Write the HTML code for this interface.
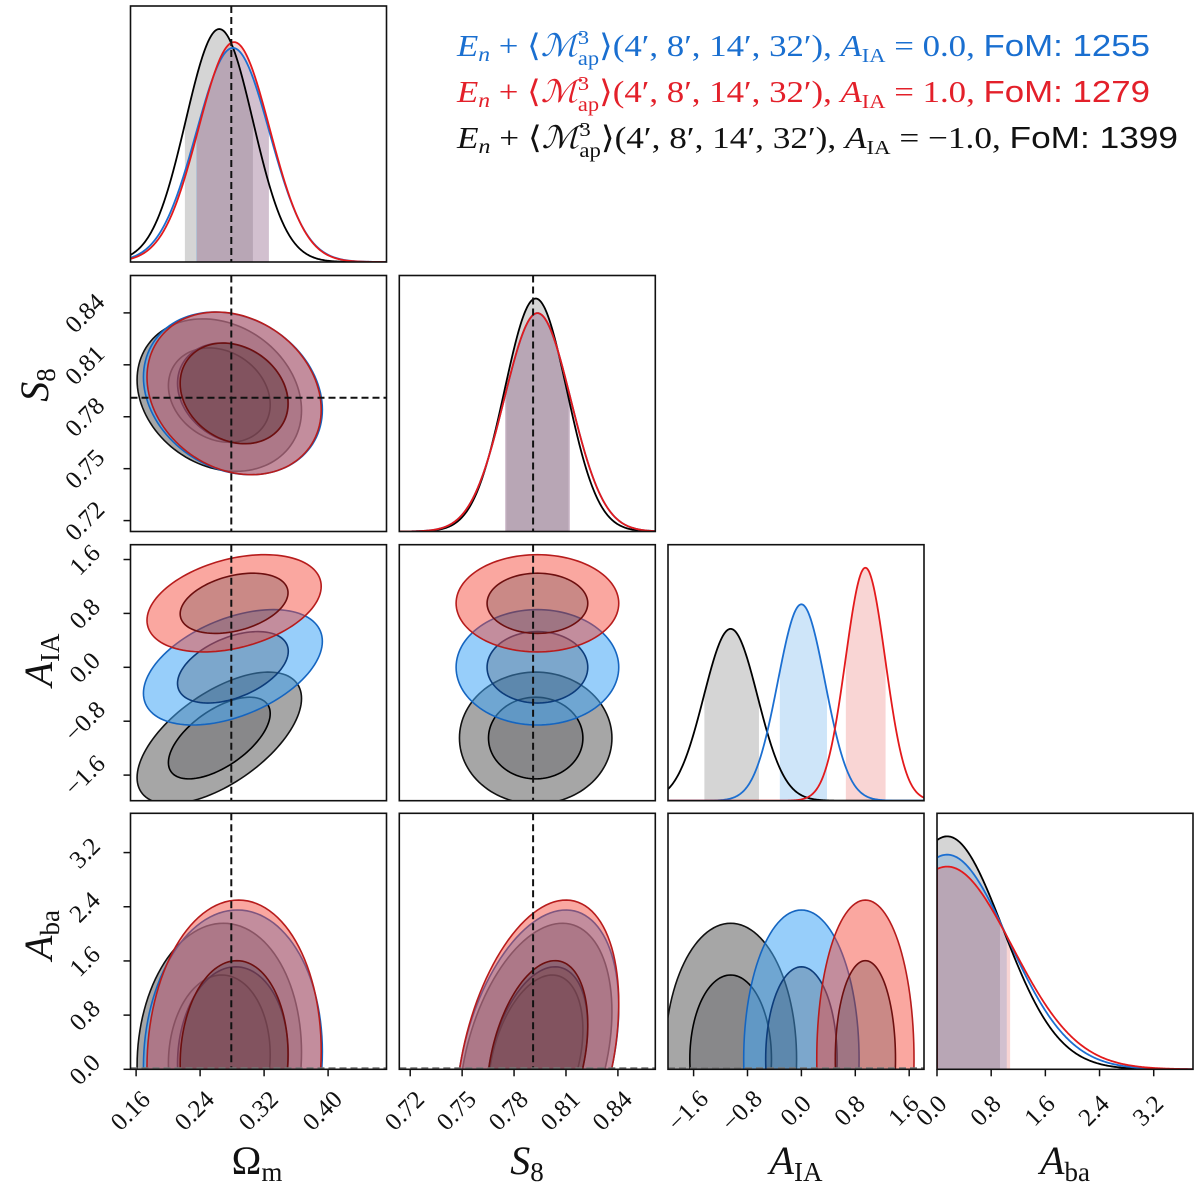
<!DOCTYPE html>
<html><head><meta charset="utf-8"><title>Corner plot</title>
<style>
html,body{margin:0;padding:0;background:#fff;}
svg{display:block;font-family:"Liberation Serif","DejaVu Serif",serif;}
</style></head>
<body>
<svg id="chart" width="1200" height="1200" viewBox="0 0 1200 1200" xmlns="http://www.w3.org/2000/svg">
<rect x="0" y="0" width="1200" height="1200" fill="#fff"/>
<g id="panels"></g>
<g id="legend">
<text x="457" y="56" font-size="31" fill="#1a6fd0" textLength="693" lengthAdjust="spacingAndGlyphs"><tspan font-style="italic">E</tspan><tspan font-style="italic" font-size="21" dy="5">n</tspan><tspan dy="-5"> + ⟨</tspan><tspan font-style="italic">ℳ</tspan><tspan font-size="20" dy="-12">3</tspan><tspan font-size="20" dx="-10" dy="21">ap</tspan><tspan dy="-9">⟩(4′, 8′, 14′, 32′), </tspan><tspan font-style="italic">A</tspan><tspan font-size="20" dy="6">IA</tspan><tspan dy="-6"> = 0.0, </tspan><tspan font-family="Liberation Sans, sans-serif">FoM: 1255</tspan></text>
<text x="457" y="102" font-size="31" fill="#e3202a" textLength="693" lengthAdjust="spacingAndGlyphs"><tspan font-style="italic">E</tspan><tspan font-style="italic" font-size="21" dy="5">n</tspan><tspan dy="-5"> + ⟨</tspan><tspan font-style="italic">ℳ</tspan><tspan font-size="20" dy="-12">3</tspan><tspan font-size="20" dx="-10" dy="21">ap</tspan><tspan dy="-9">⟩(4′, 8′, 14′, 32′), </tspan><tspan font-style="italic">A</tspan><tspan font-size="20" dy="6">IA</tspan><tspan dy="-6"> = 1.0, </tspan><tspan font-family="Liberation Sans, sans-serif">FoM: 1279</tspan></text>
<text x="457" y="148" font-size="31" fill="#111" textLength="721" lengthAdjust="spacingAndGlyphs"><tspan font-style="italic">E</tspan><tspan font-style="italic" font-size="21" dy="5">n</tspan><tspan dy="-5"> + ⟨</tspan><tspan font-style="italic">ℳ</tspan><tspan font-size="20" dy="-12">3</tspan><tspan font-size="20" dx="-10" dy="21">ap</tspan><tspan dy="-9">⟩(4′, 8′, 14′, 32′), </tspan><tspan font-style="italic">A</tspan><tspan font-size="20" dy="6">IA</tspan><tspan dy="-6"> = −1.0, </tspan><tspan font-family="Liberation Sans, sans-serif">FoM: 1399</tspan></text>
</g>
<g id="titles" font-size="40" fill="#111">
<text x="257" y="1174" text-anchor="middle">Ω<tspan font-size="27" dy="7">m</tspan></text>
<text x="527" y="1174" text-anchor="middle"><tspan font-style="italic">S</tspan><tspan font-size="27" dy="7">8</tspan></text>
<text x="796" y="1174" text-anchor="middle"><tspan font-style="italic">A</tspan><tspan font-size="27" dy="7">IA</tspan></text>
<text x="1065" y="1174" text-anchor="middle"><tspan font-style="italic">A</tspan><tspan font-size="27" dy="7">ba</tspan></text>
<text transform="translate(48,385) rotate(-90)" text-anchor="middle"><tspan font-style="italic">S</tspan><tspan font-size="27" dy="7">8</tspan></text>
<text transform="translate(52,660) rotate(-90)" text-anchor="middle"><tspan font-style="italic">A</tspan><tspan font-size="27" dy="7">IA</tspan></text>
<text transform="translate(52,935) rotate(-90)" text-anchor="middle"><tspan font-style="italic">A</tspan><tspan font-size="27" dy="7">ba</tspan></text>
</g>
</svg>
<script>
// ---- data (series order: A_IA=-1.0 (black), A_IA=0.0 (blue), A_IA=1.0 (red)) ----
const seriesNames = ["aia-minus-1", "aia-0", "aia-1"];
const meanOm = [0.264, 0.281, 0.2825];
const sigOm = [0.042, 0.0457, 0.0445];
const meanS8 = [0.7925, 0.7935, 0.7935];
const sigS8 = [0.018, 0.0192, 0.0192];
const meanAIA = [-1.05, 0.0, 0.95];
const sigAIA = [0.40, 0.35, 0.295];
const meanAba = [0.15, 0.15, 0.15];
const sigAba = [0.82, 0.90, 0.96];
const corrOmS8 = [-0.2, -0.2, -0.2];
const corrOmAIA = [0.6, 0.45, 0.35];
const corrOmAba = [0.05, 0.05, 0.05];
const corrS8AIA = [0.0, 0.0, 0.0];
const corrS8Aba = [0.35, 0.35, 0.35];
const corrAIAAba = [0.0, 0.0, 0.0];
const bandOm = [[0.221, 0.306], [0.235, 0.326], [0.236, 0.326]];
const bandS8 = [[0.7755, 0.8115], [0.7748, 0.8123], [0.7748, 0.8123]];
const bandAIA = [[-1.44, -0.63], [-0.32, 0.38], [0.66, 1.25]];
const bandAba = [[0.0, 0.93], [0.0, 1.03], [0.0, 1.08]];
const ticksOm = [0.16, 0.24, 0.32, 0.40];
const tickLabelsOm = ["0.16", "0.24", "0.32", "0.40"];
const ticksS8 = [0.72, 0.75, 0.78, 0.81, 0.84];
const tickLabelsS8 = ["0.72", "0.75", "0.78", "0.81", "0.84"];
const ticksAIA = [-1.6, -0.8, 0.0, 0.8, 1.6];
const tickLabelsAIA = ["−1.6", "−0.8", "0.0", "0.8", "1.6"];
const ticksAba = [0.0, 0.8, 1.6, 2.4, 3.2];
const tickLabelsAba = ["0.0", "0.8", "1.6", "2.4", "3.2"];
const fidOm = 0.279;
const fidS8 = 0.791;
const fidAba = 0.0;

// ---- layout / style ----
const NS = "http://www.w3.org/2000/svg";
const colLeft = [130.5, 399.3, 668, 937];
const rowTop = [6, 275.5, 544.7, 813.3];
const PS = 256;
const ranges = [[0.153, 0.473], [0.7137, 0.8616], [-1.98, 1.82], [0, 3.78]];
const paramKeys = ["omega-m", "s8", "a-ia", "a-ba"];
const means = [meanOm, meanS8, meanAIA, meanAba];
const sigs = [sigOm, sigS8, sigAIA, sigAba];
const bands = [bandOm, bandS8, bandAIA, bandAba];
const ticks = [ticksOm, ticksS8, ticksAIA, ticksAba];
const tickLabels = [tickLabelsOm, tickLabelsS8, tickLabelsAIA, tickLabelsAba];
const lineCol = ["#000000", "#1c6fd1", "#e31a1c"];
const outerLine = ["#111111", "#1565c0", "#b71c1c"];
const innerLine = ["#000000", "#0d3c7a", "#6d0f0f"];
const outerFill = ["rgba(85,85,85,0.52)", "rgba(66,165,245,0.55)", "rgba(244,67,54,0.47)"];
const innerFill = "rgba(30,30,40,0.22)";
const bandFill = ["rgba(128,128,128,0.33)", "rgba(30,136,229,0.22)", "rgba(229,57,53,0.21)"];
const R68 = 1.515, R95 = 2.447;

function corrFor(a, b, s) {
  const k = Math.min(a, b) * 10 + Math.max(a, b);
  const m = {1: corrOmS8, 2: corrOmAIA, 3: corrOmAba, 12: corrS8AIA, 13: corrS8Aba, 23: corrAIAAba};
  return m[k][s];
}
function sx(p, col, v) { const r = ranges[p]; return colLeft[col] + (v - r[0]) / (r[1] - r[0]) * PS; }
function sy(p, row, v) { const r = ranges[p]; return rowTop[row] + PS - (v - r[0]) / (r[1] - r[0]) * PS; }
function mk(tag, attrs) {
  const e = document.createElementNS(NS, tag);
  for (const k in attrs) e.setAttribute(k, attrs[k]);
  return e;
}
const root = document.getElementById("panels");
const defs = mk("defs", {});
root.appendChild(defs);

function density(p, s, x) {
  const m = means[p][s], sg = sigs[p][s];
  if (p === 3) {
    if (x < 0) return 0;
    let z = 0; const n = 400;
    for (let k = 0; k < n; k++) { const t = (k + 0.5) / n * (m + 8 * sg); z += Math.exp(-0.5 * ((t - m) / sg) ** 2); }
    z = z * (m + 8 * sg) / n;
    return Math.exp(-0.5 * ((x - m) / sg) ** 2) / z;
  }
  return Math.exp(-0.5 * ((x - m) / sg) ** 2) / sg;
}

for (let i = 0; i < 4; i++) {
  for (let j = 0; j <= i; j++) {
    const L = colLeft[j], T = rowTop[i];
    const g = mk("g", {});
    
    
    root.appendChild(g);
    const cid = "clip" + i + j;
    const cp = mk("clipPath", {id: cid});
    cp.appendChild(mk("rect", {x: L, y: T, width: PS, height: PS}));
    defs.appendChild(cp);
    const inner = mk("g", {"clip-path": "url(#" + cid + ")"});
    g.appendChild(inner);

    if (i === j) {
      const p = i;
      const r = ranges[p];
      let peak = 0;
      for (let s = 0; s < 3; s++) {
        for (let k = 0; k <= 300; k++) { const x = r[0] + (r[1] - r[0]) * k / 300; peak = Math.max(peak, density(p, s, x)); }
      }
      const yScale = 0.91 * PS / peak;
      const base = T + PS;
      for (let s = 0; s < 3; s++) {
        const b = bands[p][s];
        let d = "M" + sx(p, j, b[0]).toFixed(2) + "," + base;
        for (let k = 0; k <= 80; k++) {
          const x = b[0] + (b[1] - b[0]) * k / 80;
          d += " L" + sx(p, j, x).toFixed(2) + "," + (base - density(p, s, x) * yScale).toFixed(2);
        }
        d += " L" + sx(p, j, b[1]).toFixed(2) + "," + base + " Z";
        const band = mk("path", {d: d, fill: bandFill[s], stroke: "none"});
        
        
        inner.appendChild(band);
      }
      for (let s = 0; s < 3; s++) {
        let d = "";
        const x0 = p === 3 ? 0 : r[0];
        if (p === 3) d = "M" + sx(p, j, 0).toFixed(2) + "," + base + " ";
        for (let k = 0; k <= 300; k++) {
          const x = x0 + (r[1] - x0) * k / 300;
          d += (d === "" ? "M" : "L") + sx(p, j, x).toFixed(2) + "," + (base - density(p, s, x) * yScale).toFixed(2) + " ";
        }
        const line = mk("path", {d: d, fill: "none", stroke: lineCol[s], "stroke-width": 1.8});
        
        
        inner.appendChild(line);
      }
    } else {
      const px = j, py = i;
      for (let s = 0; s < 3; s++) {
        const mx = means[px][s], my = means[py][s], ssx = sigs[px][s], ssy = sigs[py][s];
        const rho = corrFor(px, py, s);
        const ellipse = function (rad) {
          let d = "";
          for (let k = 0; k <= 120; k++) {
            const t = 2 * Math.PI * k / 120;
            const x = mx + rad * ssx * Math.cos(t);
            const y = my + rad * ssy * (rho * Math.cos(t) + Math.sqrt(1 - rho * rho) * Math.sin(t));
            d += (k === 0 ? "M" : "L") + sx(px, j, x).toFixed(2) + "," + sy(py, i, y).toFixed(2) + " ";
          }
          return d + "Z";
        };
        const o = mk("path", {d: ellipse(R95), fill: outerFill[s], stroke: outerLine[s], "stroke-width": 1.6});
        
        
        inner.appendChild(o);
        const n = mk("path", {d: ellipse(R68), fill: innerFill, stroke: innerLine[s], "stroke-width": 1.6});
        
        
        inner.appendChild(n);
      }
    }
    const dash = {stroke: "#111", "stroke-width": 2, "stroke-dasharray": "7 4", fill: "none"};
    if (j === 0) {
      const x = sx(0, 0, fidOm);
      const l = mk("line", Object.assign({x1: x, y1: T, x2: x, y2: T + PS}, dash));
      
      
      inner.appendChild(l);
    }
    if (j === 1) {
      const x = sx(1, 1, fidS8);
      const l = mk("line", Object.assign({x1: x, y1: T, x2: x, y2: T + PS}, dash));
      
      
      inner.appendChild(l);
    }
    if (i === 1 && j === 0) {
      const y = sy(1, 1, fidS8);
      const l = mk("line", Object.assign({x1: L, y1: y, x2: L + PS, y2: y}, dash));
      
      
      inner.appendChild(l);
    }
    if (i === 3 && j < 3) {
      const y = sy(3, 3, fidAba) - 1;
      const l = mk("line", Object.assign({x1: L, y1: y, x2: L + PS, y2: y}, dash, {stroke: "#777"}));
      
      
      inner.appendChild(l);
    }
    const frame = mk("rect", {x: L, y: T, width: PS, height: PS, fill: "none", stroke: "#111", "stroke-width": 1.6});
    
    
    g.appendChild(frame);

    if (i === 3) {
      for (let k = 0; k < ticks[j].length; k++) {
        const x = sx(j, j, ticks[j][k]);
        if (x < L - 1 || x > L + PS + 1) continue;
        const tk = mk("line", {x1: x, y1: T + PS, x2: x, y2: T + PS + 7, stroke: "#111", "stroke-width": 1.5});
        
        
        g.appendChild(tk);
        const tx = mk("text", {transform: "translate(" + (x - 4).toFixed(1) + "," + (T + PS + 43) + ") rotate(-45)", "text-anchor": "middle", "font-size": 25, fill: "#111", "dominant-baseline": "middle"});
        tx.textContent = tickLabels[j][k];
        
        
        g.appendChild(tx);
      }
    }
    if (j === 0 && i > 0) {
      for (let k = 0; k < ticks[i].length; k++) {
        const y = sy(i, i, ticks[i][k]);
        if (y < T - 1 || y > T + PS + 1) continue;
        const tk = mk("line", {x1: L - 7, y1: y, x2: L, y2: y, stroke: "#111", "stroke-width": 1.5});
        
        
        g.appendChild(tk);
        const tx = mk("text", {transform: "translate(" + (L - 44) + "," + (y + 2).toFixed(1) + ") rotate(-45)", "text-anchor": "middle", "font-size": 25, fill: "#111", "dominant-baseline": "middle"});
        tx.textContent = tickLabels[i][k];
        
        
        g.appendChild(tx);
      }
    }
  }
}
</script>
</body></html>
